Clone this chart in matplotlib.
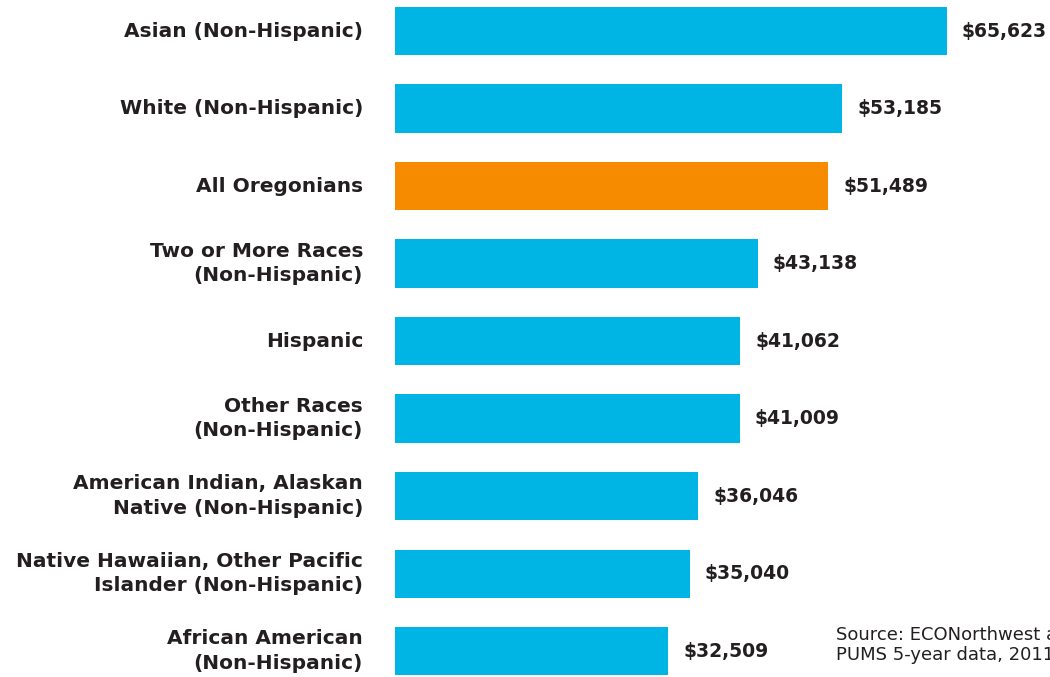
import matplotlib
matplotlib.use("Agg")
import matplotlib.pyplot as plt

labels = [
    "Asian (Non-Hispanic)",
    "White (Non-Hispanic)",
    "All Oregonians",
    "Two or More Races\n(Non-Hispanic)",
    "Hispanic",
    "Other Races\n(Non-Hispanic)",
    "American Indian, Alaskan\nNative (Non-Hispanic)",
    "Native Hawaiian, Other Pacific\nIslander (Non-Hispanic)",
    "African American\n(Non-Hispanic)",
]
incomes = [65623, 53185, 51489, 43138, 41062, 41009, 36046, 35040, 32509]
highlight = "All Oregonians"

blue = "#00B4E3"
orange = "#F78B00"
txt = "#231F20"

fig = plt.figure(figsize=(10.5, 6.77), dpi=100)
ax = fig.add_axes([395 / 1050, 0, 655 / 1050, 1])

pos = list(range(len(labels)))
colors = [orange if l == highlight else blue for l in labels]
ax.barh(pos, incomes, height=0.62, color=colors)

ax.set_xlim(0, 655 / 552 * 65623)
ax.set_ylim(8.335, -0.4)
ax.axis("off")

for i, (lab, v) in enumerate(zip(labels, incomes)):
    ax.annotate(lab, xy=(0, i), xytext=(-32, 0), textcoords="offset pixels",
                ha="right", va="center", fontsize=14.5, fontweight="bold",
                color=txt, linespacing=1.35)
    ax.annotate(f"${v:,}", xy=(v, i), xytext=(15, 0), textcoords="offset pixels",
                ha="left", va="center", fontsize=13.5, fontweight="bold", color=txt)

fig.text(836 / 1050, 1 - 645 / 677, "Source: ECONorthwest analysis of\nPUMS 5-year data, 2011",
         ha="left", va="center", fontsize=13, color=txt, linespacing=1.1)

fig.savefig("out.png", dpi=100)
